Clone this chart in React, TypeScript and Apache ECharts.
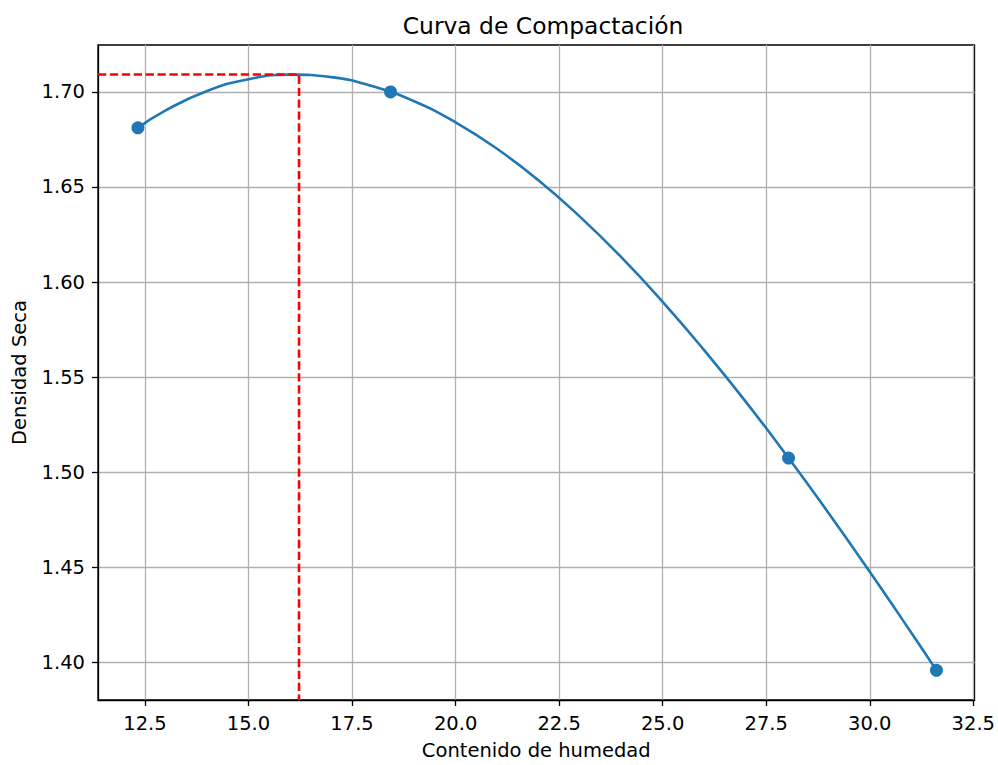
import React, { useEffect, useRef } from "react";
import * as echarts from "echarts";

const measuredX = [12.33, 18.43, 28.04, 31.61];
const measuredY = [1.6811, 1.7, 1.5074, 1.3957];

const curveX = [12.33, 13, 14, 15, 16, 17, 18, 19, 20, 21, 22, 23, 24, 25, 26, 27, 28.04, 29, 30, 31, 31.61];
const curveY = [1.6811, 1.6903, 1.7005, 1.7067, 1.7091, 1.7078, 1.703, 1.6951, 1.684, 1.6701, 1.6535, 1.6344, 1.6131, 1.5896, 1.5642, 1.5372, 1.5074, 1.4786, 1.4476, 1.4156, 1.3957];

const optimumX = 16.22;
const optimumY = 1.7092;

const xTicks = [12.5, 15.0, 17.5, 20.0, 22.5, 25.0, 27.5, 30.0, 32.5];
const yTicks = [1.4, 1.45, 1.5, 1.55, 1.6, 1.65, 1.7];

const xMin = 11.366;
const xMax = 32.53;
const yMin = 1.3801;
const yMax = 1.7247;

const FONT = "DejaVu Sans";

export default function App() {
  const ref = useRef<HTMLDivElement>(null);
  useEffect(() => {
    if (!ref.current) return;
    const chart = echarts.init(ref.current, undefined, { renderer: "svg" });
    const axisCommon = {
      axisLine: { show: true, onZero: false, lineStyle: { color: "#000", width: 1.3 } },
      axisTick: { show: true, inside: false, length: 6, lineStyle: { color: "#000", width: 1.3 } },
      splitLine: { show: true, lineStyle: { color: "#b0b0b0", width: 1.3 } },
      nameTextStyle: { fontFamily: FONT, fontSize: 19.5, color: "#000" },
    };
    chart.setOption({
      animation: false,
      backgroundColor: "#fff",
      title: {
        text: "Curva de Compactación",
        left: 538,
        textAlign: "center",
        top: 9,
        textStyle: { fontFamily: FONT, fontSize: 23.4, fontWeight: "normal", color: "#000" },
      },
      grid: {
        left: 98,
        right: 20,
        top: 45,
        bottom: 63,
        containLabel: false,
        show: true,
        borderColor: "#000",
        borderWidth: 1.3,
        backgroundColor: "transparent",
      },
      xAxis: {
        type: "value",
        min: xMin,
        max: xMax,
        name: "Contenido de humedad",
        nameLocation: "middle",
        nameGap: 40,
        ...axisCommon,
        axisTick: { ...axisCommon.axisTick, customValues: xTicks },
        splitLine: { ...axisCommon.splitLine, customValues: xTicks },
        axisLabel: {
          customValues: xTicks,
          formatter: (v: number) => v.toFixed(1),
          fontFamily: FONT,
          fontSize: 19.5,
          color: "#000",
          margin: 13,
        },
      },
      yAxis: {
        type: "value",
        min: yMin,
        max: yMax,
        name: "Densidad Seca",
        nameLocation: "middle",
        nameGap: 69,
        ...axisCommon,
        axisTick: { ...axisCommon.axisTick, customValues: yTicks },
        splitLine: { ...axisCommon.splitLine, customValues: yTicks },
        axisLabel: {
          customValues: yTicks,
          formatter: (v: number) => v.toFixed(2),
          fontFamily: FONT,
          fontSize: 19.5,
          color: "#000",
          margin: 13,
        },
      },
      series: [
        {
          type: "line",
          data: curveX.map((x, i) => [x, curveY[i]]),
          smooth: true,
          showSymbol: false,
          symbol: "none",
          lineStyle: { color: "#1f77b4", width: 2.6 },
          z: 2,
        },
        {
          type: "scatter",
          data: measuredX.map((x, i) => [x, measuredY[i]]),
          symbolSize: 13,
          itemStyle: { color: "#1f77b4", opacity: 1 },
          z: 3,
        },
        {
          type: "line",
          data: [
            [xMin, optimumY],
            [optimumX, optimumY],
            [optimumX, yMin],
          ],
          symbol: "none",
          lineStyle: { color: "#ff0000", width: 2.6, type: [8.3, 3.6] },
          z: 4,
        },
      ],
    });
    return () => chart.dispose();
  }, []);
  return <div ref={ref} style={{ width: 998, height: 765, position: "absolute", left: 0, top: 0 }} />;
}
